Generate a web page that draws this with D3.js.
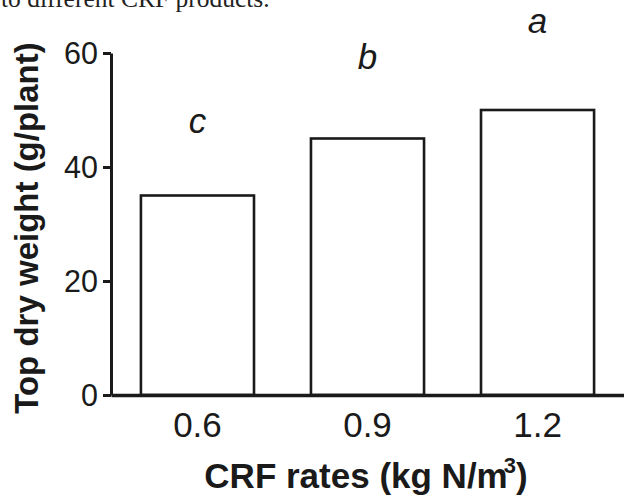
<!DOCTYPE html>
<html><head><meta charset="utf-8">
<script src="https://cdn.jsdelivr.net/npm/d3@7"></script>
<style>body{margin:0;background:#fff}svg{display:block}</style>
</head><body>
<script>
const categories = ["0.6", "0.9", "1.2"];
const values = [35, 45, 50];
const letters = ["c", "b", "a"];
const yTicks = [0, 20, 40, 60];

const W = 624, H = 499;
const svg = d3.select("body").append("svg").attr("width", W).attr("height", H);

const x = d3.scaleBand().domain(categories).range([111, 624]).paddingInner(0.335).paddingOuter(0.176);
const y = d3.scaleLinear().domain([0, 60]).range([395, 53]);

// caption fragment at top
svg.append("text").attr("x", 1).attr("y", 7)
  .attr("font-family", "Liberation Serif, Times New Roman, serif").attr("font-size", 25.5)
  .attr("fill", "#222").text("to different CRF products.");

// bars
svg.selectAll("rect.bar").data(values).join("rect")
  .attr("x", (d, i) => x(categories[i]))
  .attr("y", d => y(d))
  .attr("width", x.bandwidth())
  .attr("height", d => y(0) - y(d))
  .attr("fill", "#fff").attr("stroke", "#1a1a1a").attr("stroke-width", 2.6);

// y axis
const yAxis = svg.append("g").attr("transform", "translate(111,0)")
  .call(d3.axisLeft(y).tickValues(yTicks).tickSize(8).tickPadding(5).tickSizeOuter(0));
yAxis.select(".domain").attr("stroke", "#1a1a1a").attr("stroke-width", 3);
yAxis.selectAll(".tick line").attr("stroke", "#1a1a1a").attr("stroke-width", 3);
yAxis.selectAll(".tick text").attr("font-family", "Liberation Sans, Arial, sans-serif")
  .attr("font-size", 30.5).attr("fill", "#1a1a1a").attr("dy", "0.36em");

// x axis baseline
const xAxis = svg.append("g").attr("transform", "translate(0,395)")
  .call(d3.axisBottom(x).tickSize(0).tickPadding(17));
xAxis.select(".domain").attr("stroke", "#1a1a1a").attr("stroke-width", 3.5);
xAxis.selectAll(".tick text").attr("font-family", "Liberation Sans, Arial, sans-serif")
  .attr("font-size", 35).attr("fill", "#1a1a1a");

// significance letters
const letterY = [133, 69, 33];
svg.selectAll("text.letter").data(letters).join("text")
  .attr("class", "letter")
  .attr("x", (d, i) => x(categories[i]) + x.bandwidth() / 2)
  .attr("y", (d, i) => letterY[i])
  .attr("text-anchor", "middle")
  .attr("font-family", "Liberation Sans, Arial, sans-serif")
  .attr("font-style", "italic").attr("font-size", 35).attr("fill", "#1a1a1a")
  .text(d => d);

// y axis title
svg.append("text")
  .attr("transform", "translate(38,228) rotate(-90)")
  .attr("text-anchor", "middle")
  .attr("font-family", "Liberation Sans, Arial, sans-serif")
  .attr("font-weight", "bold").attr("font-size", 33).attr("fill", "#1a1a1a")
  .text("Top dry weight (g/plant)");

// x axis title
const xt = svg.append("text")
  .attr("x", 366).attr("y", 488)
  .attr("text-anchor", "middle")
  .attr("font-family", "Liberation Sans, Arial, sans-serif")
  .attr("font-weight", "bold").attr("font-size", 35).attr("fill", "#1a1a1a");
xt.append("tspan").text("CRF rates (kg N/m");
xt.append("tspan").attr("dy", -15).attr("dx", -4).attr("font-size", 22).text("3");
xt.append("tspan").attr("dy", 15).text(")");
</script>
</body></html>
